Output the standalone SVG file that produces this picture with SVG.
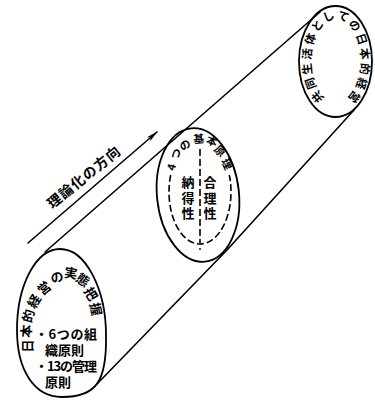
<svg xmlns="http://www.w3.org/2000/svg" width="375" height="402" viewBox="0 0 375 402">
<defs>
<style>
.ln{fill:none;stroke:#000;stroke-width:1.6;stroke-linecap:round;stroke-linejoin:round}
.el{fill:none;stroke:#000;stroke-width:1.8}
.dash{fill:none;stroke:#000;stroke-width:1.6;stroke-dasharray:7 3}
.t{font-family:"Noto Sans CJK JP","Noto Sans CJK SC",sans-serif;fill:#000;font-weight:700}
.c{text-anchor:middle}
.s13{font-size:13px}
.s11{font-size:11px}
.s115{font-size:11.5px}
</style>
<marker id="ah" viewBox="0 0 12 6" refX="11" refY="3" markerWidth="12" markerHeight="6" markerUnits="userSpaceOnUse" orient="auto"><path d="M0,0.5 L12,3 L0,5.5 L2.5,3 Z" fill="#000"/></marker>
</defs>
<rect width="375" height="402" fill="#fff"/>
<g id="connectors">
<line class="ln" x1="45" y1="252" x2="320" y2="12"/>
<polyline class="ln" points="97,384 227,250 354,110"/>
<line class="ln" x1="28" y1="243" x2="157" y2="132" marker-end="url(#ah)"/>
<text class="t c" font-size="14" letter-spacing="1" transform="translate(84,177) rotate(-39)" x="0" y="5">理論化の方向</text>
</g>
<g id="node-jittai">
<path class="el" d="M60,249 C86,249 106,290 106,335 C107,382 96,397 62,397 C34,397 17,370 17,330 C17,285 36,249 60,249 Z"/>
<g class="t c s13">
<text transform="translate(27,346) rotate(-90)" y="5">日</text>
<text transform="translate(26,331) rotate(-85)" y="5">本</text>
<text transform="translate(28,316) rotate(-75)" y="5">的</text>
<text transform="translate(34,301) rotate(-58)" y="5">経</text>
<text transform="translate(44,288) rotate(-40)" y="5">営</text>
<text transform="translate(57,277) rotate(-18)" y="5">の</text>
<text transform="translate(71,273) rotate(8)" y="5">実</text>
<text transform="translate(83,280) rotate(35)" y="5">態</text>
<text transform="translate(91,294) rotate(60)" y="5">把</text>
<text transform="translate(96,309) rotate(78)" y="5">握</text>
</g>
<text class="t s13" x="35" y="339" textLength="62" lengthAdjust="spacing">・6つの組</text>
<text class="t s13" x="45" y="355">織原則</text>
<text class="t s13" x="35" y="371" textLength="62" lengthAdjust="spacing">・13の管理</text>
<text class="t s13" x="45" y="387">原則</text>
</g>
<g id="node-genri">
<ellipse class="el" cx="198" cy="195" rx="41" ry="67" transform="rotate(-6 198 195)"/>
<path class="dash" d="M170.7,175 A31,52 0 1 0 229.3,175"/>
<line class="dash" x1="200" y1="149" x2="200" y2="243"/>
<circle cx="200" cy="249" r="0.9" fill="#000"/>
<g class="t c s11">
<text transform="translate(171.5,167) rotate(-75)" y="4">4</text>
<text transform="translate(176,154) rotate(-58)" y="4">つ</text>
<text transform="translate(185,145) rotate(-35)" y="4">の</text>
<text transform="translate(199,139) rotate(-5)" y="4">基</text>
<text transform="translate(212,141) rotate(20)" y="4">本</text>
<text transform="translate(220,151) rotate(45)" y="4">原</text>
<text transform="translate(227,164) rotate(65)" y="4">理</text>
</g>
<text class="t c s13"><tspan x="188" y="187">納</tspan><tspan x="188" y="203">得</tspan><tspan x="188" y="218">性</tspan></text>
<text class="t c s13"><tspan x="210" y="187">合</tspan><tspan x="210" y="203">理</tspan><tspan x="210" y="218">性</tspan></text>
</g>
<g id="node-kyodo">
<ellipse class="el" cx="335.5" cy="61.5" rx="36.5" ry="55.5"/>
<g class="t c s115">
<text transform="translate(317.8,96.8) rotate(-128)" y="4">共</text>
<text transform="translate(310.7,83.5) rotate(-109.5)" y="4">同</text>
<text transform="translate(307.4,68.9) rotate(-96)" y="4">生</text>
<text transform="translate(307.4,53.8) rotate(-84)" y="4">活</text>
<text transform="translate(310.5,39.1) rotate(-71)" y="4">体</text>
<text transform="translate(317.4,25.7) rotate(-53)" y="4">と</text>
<text transform="translate(328.7,16.5) rotate(-22)" y="4">し</text>
<text transform="translate(343.3,16.5) rotate(22)" y="4">て</text>
<text transform="translate(354.6,25.7) rotate(53)" y="4">の</text>
<text transform="translate(361.5,39.1) rotate(71)" y="4">日</text>
<text transform="translate(364.6,53.8) rotate(84)" y="4">本</text>
<text transform="translate(364.6,68.9) rotate(96)" y="4">的</text>
<text transform="translate(361.3,83.5) rotate(109.5)" y="4">経</text>
<text transform="translate(354.2,96.8) rotate(128)" y="4">営</text>
</g>
</g>
</svg>
